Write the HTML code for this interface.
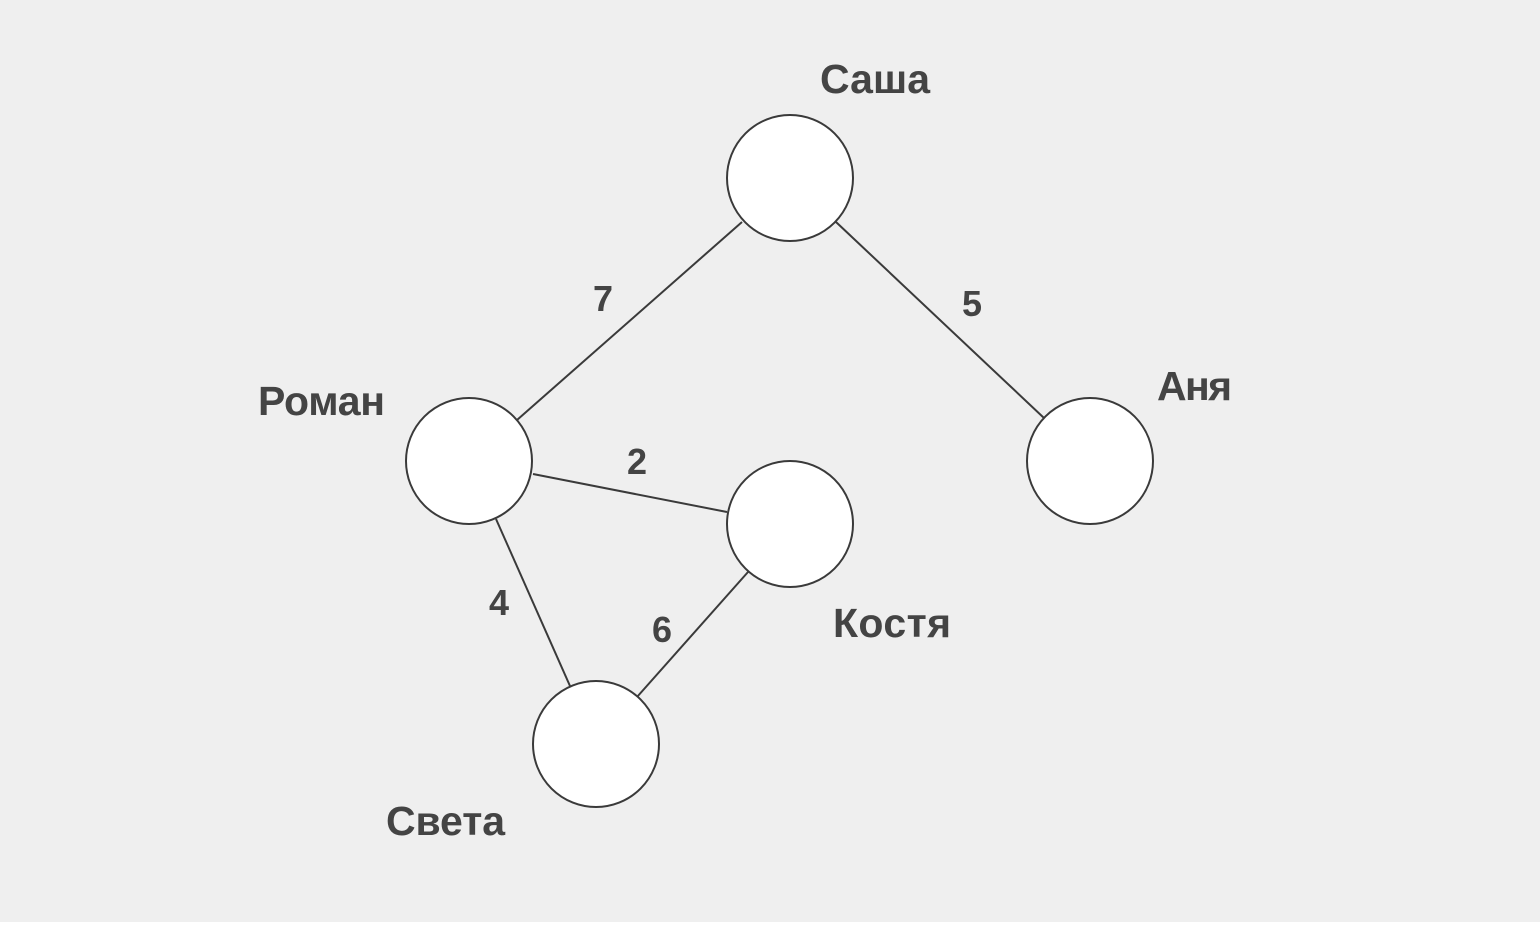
<!DOCTYPE html>
<html><head><meta charset="utf-8"><style>
html,body{margin:0;padding:0;background:#fff}
svg{display:block}
text{font-family:"Liberation Sans",sans-serif;font-weight:bold;fill:#444}
</style></head><body>
<svg width="1540" height="926" viewBox="0 0 1540 926">
<rect x="0" y="0" width="1540" height="922" fill="#efefef"/>
<g stroke="#3a3a3a" stroke-width="2" fill="none">
<line x1="742" y1="222" x2="517" y2="420"/>
<line x1="836" y1="222" x2="1044" y2="418"/>
<line x1="533" y1="474" x2="727" y2="512"/>
<line x1="496" y1="519" x2="570" y2="686"/>
<line x1="748" y1="572" x2="637" y2="697"/>
</g>
<g stroke="#3a3a3a" stroke-width="2" fill="#fff">
<circle cx="790" cy="178" r="63"/>
<circle cx="469" cy="461" r="63"/>
<circle cx="790" cy="524" r="63"/>
<circle cx="1090" cy="461" r="63"/>
<circle cx="596" cy="744" r="63"/>
</g>
<g font-size="41">
<text x="820" y="93" textLength="110">Саша</text>
<text x="258" y="415" textLength="127">Роман</text>
<text x="1157" y="400" textLength="75">Аня</text>
<text x="833" y="637" textLength="118">Костя</text>
<text x="386" y="835" textLength="119">Света</text>
</g>
<g font-size="36" text-anchor="middle">
<text x="603" y="311">7</text>
<text x="972" y="316">5</text>
<text x="637" y="474">2</text>
<text x="499" y="615">4</text>
<text x="662" y="642">6</text>
</g>
</svg>
</body></html>
